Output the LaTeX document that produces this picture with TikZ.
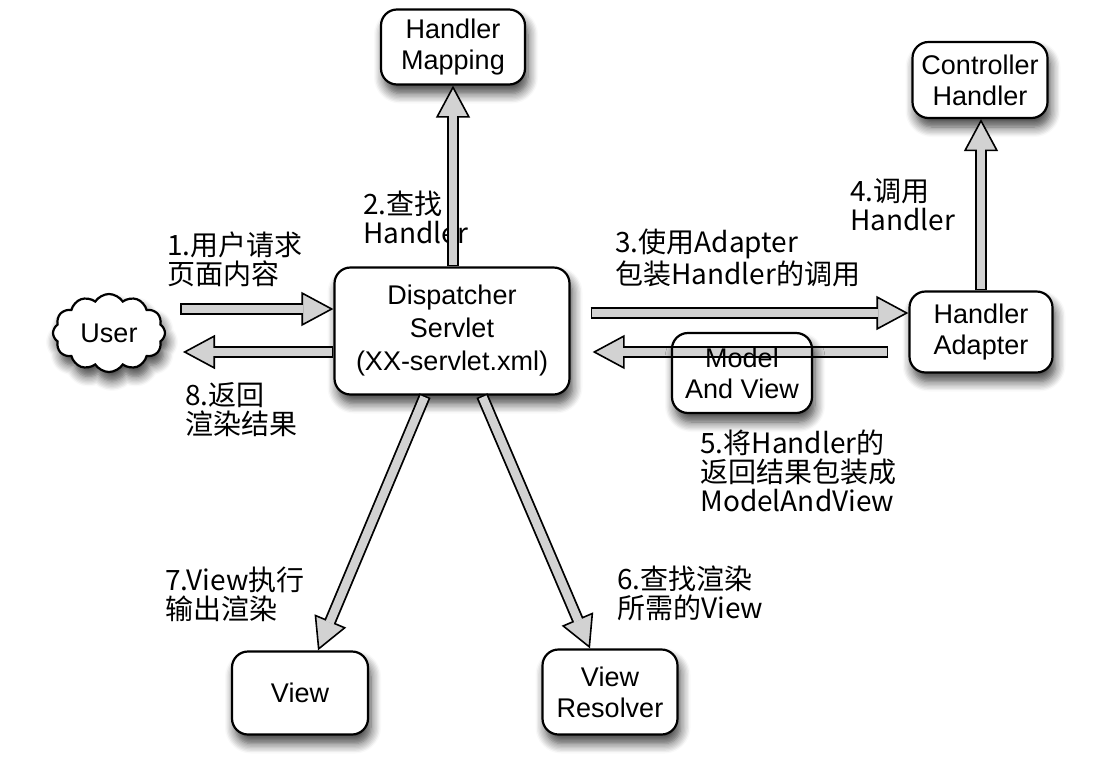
\documentclass[tikz,border=0pt]{standalone}
\usepackage{fontspec}
\setmainfont{Liberation Sans}
\newfontfamily\cjk{Noto Sans CJK SC}
\usetikzlibrary{arrows.meta, shapes.symbols, shadows.blur}

\begin{document}
\begin{tikzpicture}[x = 0.5pt, y = -0.5pt,
    soft/.style = {blur shadow = {shadow xshift = 1.5pt, shadow yshift = -4.5pt, shadow blur radius = 5pt, shadow blur steps = 8, shadow opacity = 75}},
    box/.style = {draw, line width = 1.1pt, rounded corners = 8pt, fill = white, align = center, inner sep = 2pt, font = \fontsize{13.5}{15.5}\selectfont, soft},
    flow/.style = {draw = black, line width = 6pt, -{Triangle[length = 16pt, width = 17pt, line width = 0.8pt, fill = gray!35]},
      postaction = {draw = gray!35, line width = 4.2pt, -, shorten > = 15pt, shorten < = 0.8pt}},
    note/.style = {anchor = west, align = left, inner sep = 0pt, font = \cjk\fontsize{14}{14.5}\selectfont}]

    \useasboundingbox (0,0) rectangle (1099,756);

    % boxes
    \node [box, minimum width = 72pt, minimum height = 37.5pt] (hm) at (453, 47) {Handler\\Mapping};
    \node [box, minimum width = 67.5pt, minimum height = 38pt] (ch) at (980, 80) {Controller\\Handler};
    \node [box, minimum width = 117.5pt, minimum height = 63.5pt, font = \fontsize{13.5}{16.5}\selectfont] (ds) at (452, 331) {Dispatcher\\Servlet\\(XX-servlet.xml)};
    \node [box, minimum width = 71.5pt, minimum height = 40.5pt] (ha) at (981, 332) {Handler\\Adapter};
    \node [box, minimum width = 68pt, minimum height = 41.5pt] (view) at (300, 693) {View};
    \node [box, minimum width = 67.5pt, minimum height = 42.5pt] (vr) at (610, 692) {View\\Resolver};
    \node [cloud, draw, line width = 1.1pt, fill = white, cloud puffs = 12, cloud puff arc = 115, aspect = 1.4,
      minimum width = 56pt, minimum height = 39pt, inner sep = 0pt, font = \fontsize{13.5}{15.5}\selectfont, soft] (user) at (109, 333) {User};

    % step texts
    \node [note] (l1) at (167, 259) {1.用户请求\\页面内容};
    \node [note] (l2) at (363, 217) {2.查找\\Handler};
    \node [note] (l3) at (615, 258) {3.使用Adapter\\包装Handler的调用};
    \node [note] (l4) at (850, 205) {4.调用\\Handler};
    \node [note] (l5) at (700, 471) {5.将Handler的\\返回结果包装成\\ModelAndView};
    \node [note] (l6) at (617, 593) {6.查找渲染\\所需的View};
    \node [note] (l7) at (165, 594) {7.View执行\\输出渲染};
    \node [note] (l8) at (185, 410) {8.返回\\渲染结果};

    % flow
    \coordinate (ret a) at ([xshift = -10pt, yshift = -10.5pt]ds.east -| ha.west);
    \coordinate (ret b) at ([xshift = 11pt, yshift = -10.5pt]ds.east);
    \draw [flow] ([xshift = 35.5pt, yshift = 12pt]user.center) -- ([yshift = 12pt]user.center -| ds.west);
    \draw [flow] (ds.north -| hm.south) -- (hm.south);
    \draw [flow] ([xshift = 10pt, yshift = 9pt]ds.east) -- ([yshift = 9pt]ds.east -| ha.west);
    \draw [flow] (ha.north) -- (ha.north |- ch.south);
    \draw [flow] (ret a) -- (ret b);
    \draw [flow] ([xshift = 15pt]ds.south) -- ([xshift = -10pt]vr.north);
    \draw [flow] ([xshift = -13.5pt]ds.south) -- ([xshift = 9pt]view.north);
    \draw [flow] ([yshift = -9.5pt]user.center -| ds.west) -- ([xshift = 37pt, yshift = -9.5pt]user.center);

    % the box lies on arrow 5, its text on top
    \node [box, minimum width = 70pt, minimum height = 40pt, path picture = {\draw [flow] (ret a) -- (ret b);}] (mav) at (742, 373) {Model\\And View};

\end{tikzpicture}
\end{document}
